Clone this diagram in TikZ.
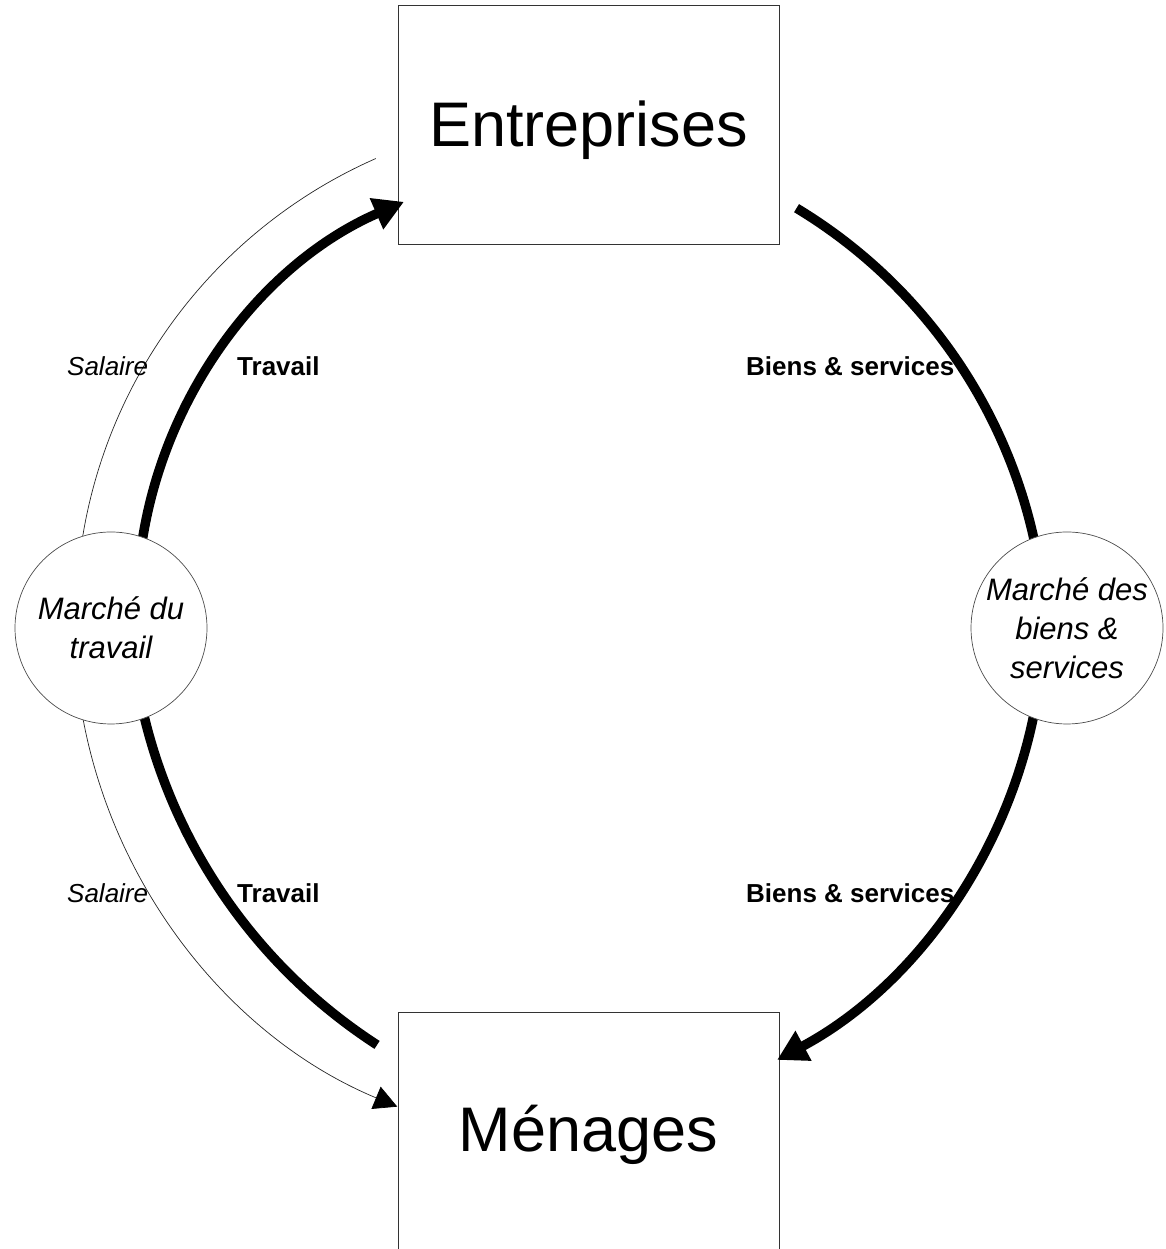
\documentclass[tikz,border=0pt]{standalone}
\usepackage{fontspec}
\setmainfont{Liberation Sans}
\usetikzlibrary{arrows.meta}
\begin{document}
\begin{tikzpicture}[x=1pt,y=1pt,
  box/.style={draw=black!80, line width=1pt, fill=white, minimum width=381pt, minimum height=239pt, inner sep=0pt, font=\fontsize{63}{75}\selectfont},
  market/.style={circle, draw=black!70, line width=0.7pt, fill=white, minimum size=192pt, inner sep=0pt, align=center, font=\fontsize{31}{39}\selectfont\itshape},
  flowthick/.style={line width=9.5pt, line cap=butt},
  flowthin/.style={line width=0.7pt, draw=black!85},
  bighead/.style={-{Triangle[length=30pt,width=32pt]}},
  smallhead/.style={-{Triangle[length=23pt,width=24pt,color=black]}},
  lab/.style={anchor=base west, inner sep=0pt, font=\fontsize{26}{31}\selectfont},
]
\useasboundingbox (0,0) rectangle (1166,1249);
\node[box] (ent) at (588.5,1123.5) {\raisebox{-5pt}[\height][\depth]{Entreprises}};
\node[box] (men) at (588.5,116.5) {\raisebox{-2pt}[\height][\depth]{Ménages}};
% Travail (thick, left)
\coordinate (twTs) at ([shift={(172:444pt)}]581,640);
\draw[flowthick,bighead] (twTs) arc[start angle=172, end angle=113.5, radius=444pt];
\coordinate (twBs) at ([shift={(193:543pt)}]672,660);
\draw[flowthick] (twBs) arc[start angle=193, end angle=237.1, radius=543pt];
% Salaire (thin, left)
\coordinate (saTs) at ([shift={(171.5:502pt)}]578,631);
\draw[flowthin] (saTs) arc[start angle=171.5, end angle=113.75, radius=502pt];
\coordinate (saBs) at ([shift={(190:525pt)}]599,627);
\draw[flowthin,smallhead] (saBs) arc[start angle=190, end angle=247.4, radius=525pt];
% Biens & services (thick, right)
\coordinate (bsTs) at ([shift={(58.9:516pt)}]530,599);
\draw[flowthick] (bsTs) arc[start angle=58.9, end angle=11.5, radius=516pt];
\coordinate (bsBs) at ([shift={(-10.5:506pt)}]538,635);
\draw[flowthick,bighead] (bsBs) arc[start angle=-10.5, end angle=-61.8, radius=506pt];
% markets
\node[market] (mt) at (111,621) {Marché du\\travail};
\node[market] (mb) at (1067,621) {Marché des\\biens \&\\services};
% labels
\node[lab] (salT) at (67,873) {\itshape Salaire};
\node[lab] (travT) at (237,873) {\bfseries Travail};
\node[lab] (bsT) at (746,873) {\bfseries Biens \& services};
\node[lab] (salB) at (67,346) {\itshape Salaire};
\node[lab] (travB) at (237,346) {\bfseries Travail};
\node[lab] (bsB) at (746,346) {\bfseries Biens \& services};
\end{tikzpicture}
\end{document}
